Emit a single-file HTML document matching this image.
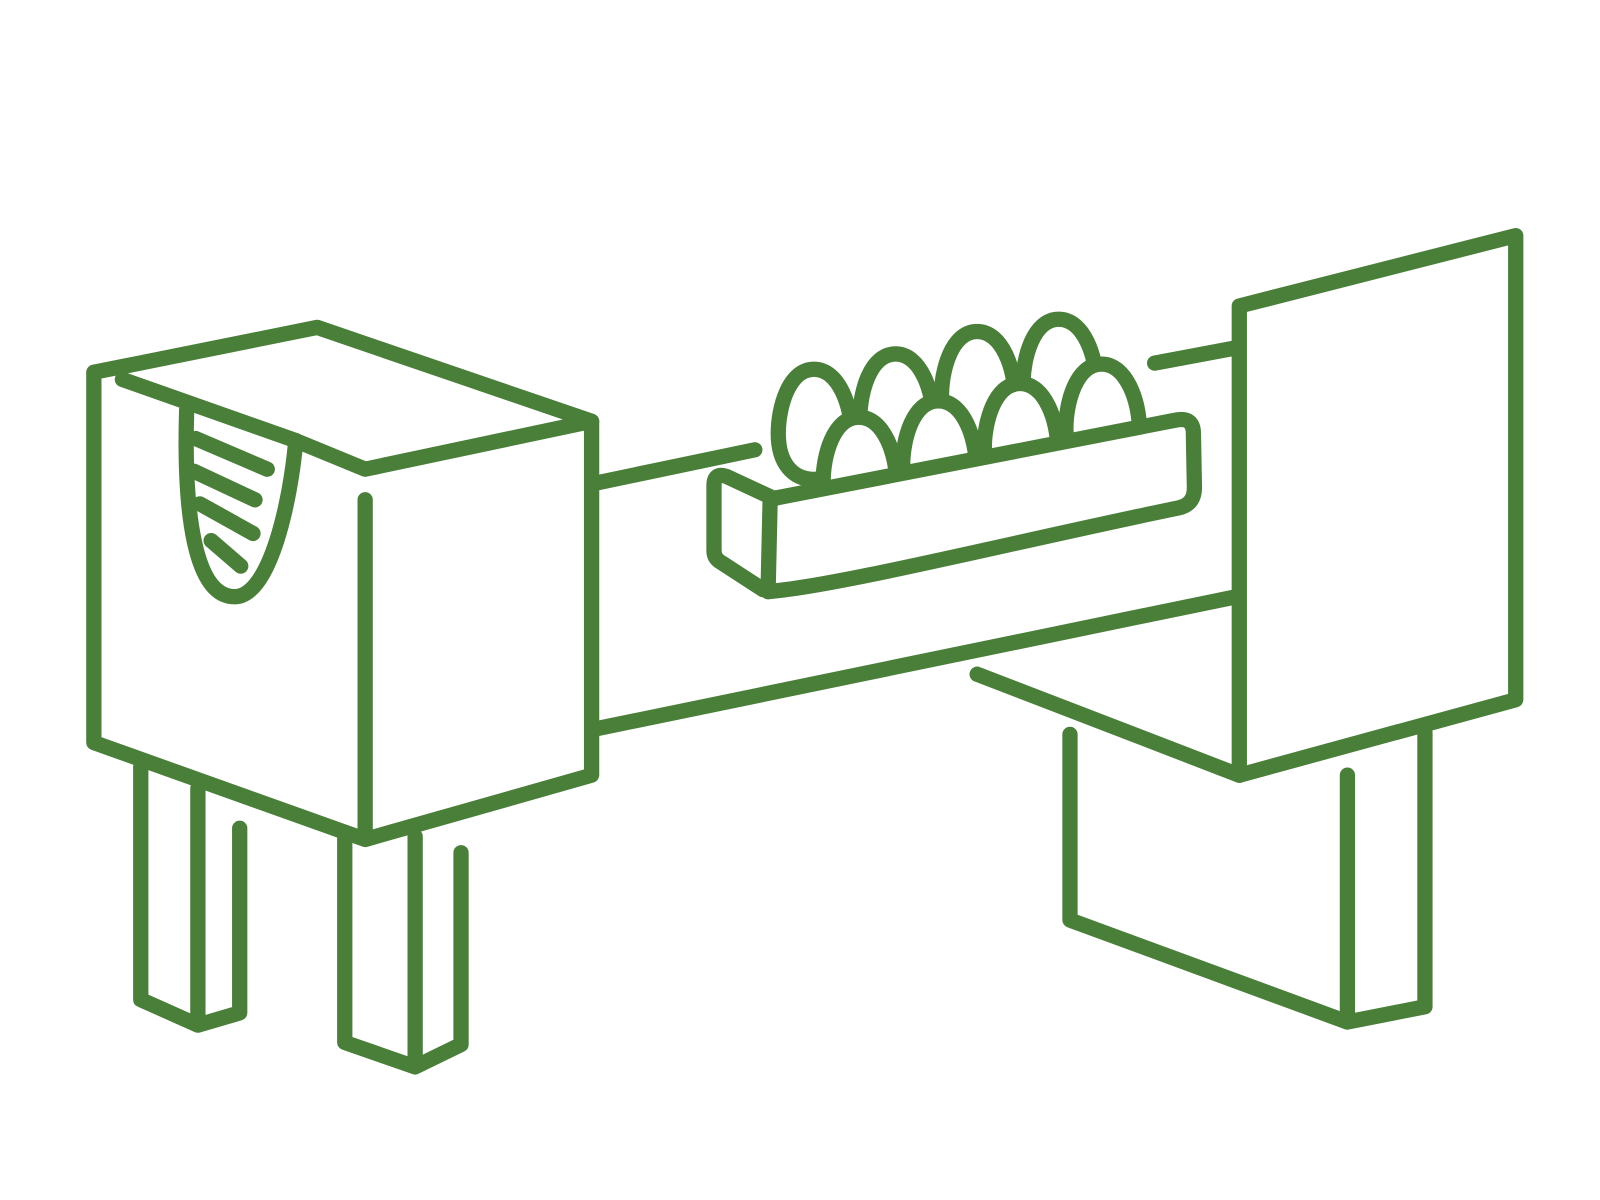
<!DOCTYPE html>
<html><head><meta charset="utf-8"><style>
html,body{margin:0;padding:0;background:#fff;width:1600px;height:1200px;overflow:hidden}
svg{display:block}
</style></head><body>
<svg width="1600" height="1200" viewBox="0 0 1600 1200" xmlns="http://www.w3.org/2000/svg">
<g transform="scale(1.02)" fill="none" stroke="#4a7f3a" stroke-width="15" stroke-linecap="round" stroke-linejoin="round">
<!-- left box -->
<path d="M92,365 L311,321 L580,413 L580,760 L358,823 L92,728 Z"/>
<path d="M120,372 L290,432 L358,460 L580,413"/>
<path d="M358,490 L358,815"/>
<!-- udder -->
<path d="M183,402 C180,500 190,585 230,585 C265,585 285,490 290,432"/>
<path d="M192,430 L262,460 M190,462 L250,490 M196,494 L248,523 M207,530 L236,555"/>
<!-- left legs -->
<path d="M138,752 L138,980 L194,1005 L235,993 L235,812"/>
<path d="M194,773 L194,1000"/>
<path d="M338,822 L338,1022 L407,1046 L452,1024 L452,836"/>
<path d="M407,820 L407,1040"/>
<!-- beam -->
<path d="M587,473 L740,441"/>
<path d="M587,714 L1212,585"/>
<path d="M1132,356 L1212,341"/>
<!-- right box -->
<path d="M1215,300 L1486,231 L1486,686 L1215,760 Z"/>
<path d="M958,661 L1215,760"/>
<path d="M1049,720 L1049,902 L1321,1002 L1397,987 L1397,718"/>
<path d="M1321,760 L1321,1000"/>
<!-- back eggs -->
<g fill="#fff">
<path d="M798,362 C823,362 835,400 835,425 C835,455 818,470 798,470 C778,470 763,455 763,425 C763,400 773,362 798,362 Z"/>
<path d="M878,347 C903,347 915,385 915,410 C915,440 898,455 878,455 C858,455 843,440 843,410 C843,385 853,347 878,347 Z"/>
<path d="M958,325 C983,325 995,363 995,388 C995,418 978,433 958,433 C938,433 923,418 923,388 C923,363 933,325 958,325 Z"/>
<path d="M1038,313 C1063,313 1075,351 1075,376 C1075,406 1058,421 1038,421 C1018,421 1003,406 1003,376 C1003,351 1013,313 1038,313 Z"/>
<!-- front eggs -->
<path d="M842,409 C867,409 879,447 879,472 C879,502 862,517 842,517 C822,517 807,502 807,472 C807,447 817,409 842,409 Z"/>
<path d="M920,393 C945,393 957,431 957,456 C957,486 940,501 920,501 C900,501 885,486 885,456 C885,431 895,393 920,393 Z"/>
<path d="M1000,376 C1025,376 1037,414 1037,439 C1037,469 1020,484 1000,484 C980,484 965,469 965,439 C965,414 975,376 1000,376 Z"/>
<path d="M1080,357 C1105,357 1117,395 1117,420 C1117,450 1100,465 1080,465 C1060,465 1045,450 1045,420 C1045,395 1055,357 1080,357 Z"/>
</g>
<!-- tray -->
<path fill="#fff" stroke="none" d="M762,488 L1152,412 L1172,420 L1172,495 L753,585 L740,585 L740,488 Z"/>
<path d="M762,488 L1152,412 Q1170,408 1170,425 L1171,478 Q1171,495 1155,498 C1000,530 820,575 753,580"/>
<path d="M753,580 L755,492 Q756,488 762,488"/>
<path d="M755,487 L712,467 Q700,463 700,476 L700,540 Q700,548 708,552 L748,578"/>
</g>
</svg>
</body></html>
